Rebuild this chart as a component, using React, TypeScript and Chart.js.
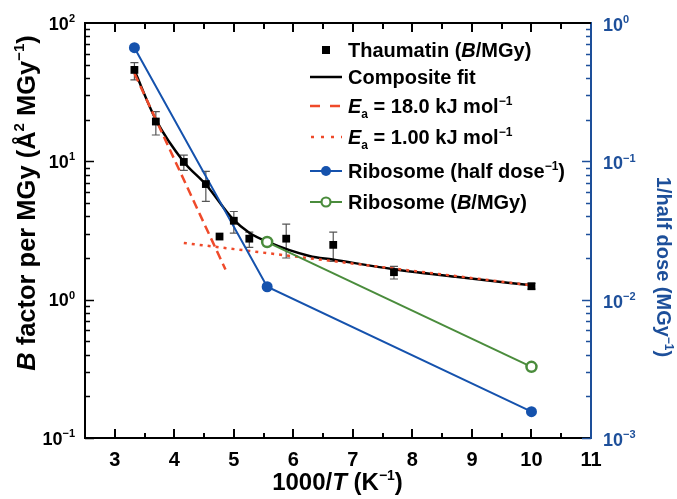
import React, { useEffect, useRef } from "react";
import { Chart, registerables } from "chart.js";

Chart.register(...registerables);

// ---------- data ----------
const thaumX = [3.33, 3.69, 4.16, 4.53, 4.76, 5.0, 5.26, 5.88, 6.67, 7.69, 10.0];
const thaumY = [45.8, 19.4, 9.9, 6.85, 2.86, 3.72, 2.76, 2.76, 2.49, 1.58, 1.25];
const thaumErrHi = [51.7, 22.9, 11.1, 8.45, null, 4.34, 3.08, 3.52, 3.08, 1.74, 1.31];
const thaumErrLo = [38.8, 15.5, 8.6, 5.13, null, 3.03, 2.39, 2.0, 1.89, 1.41, 1.19];

const fitX = [3.33, 3.69, 4.16, 4.53, 4.99, 5.26, 5.54, 6.27, 6.66, 7.69, 8.8, 10.0];
const fitY = [45.5, 20.0, 9.9, 6.8, 3.8, 3.05, 2.65, 2.07, 1.95, 1.66, 1.45, 1.27];

const ea18X = [3.33, 4.86];
const ea18Y = [43.3, 1.65];

const ea1X = [4.16, 10.0];
const ea1Y = [2.57, 1.27];

const riboDoseX = [3.33, 5.56, 10.0];
const riboDoseY = [0.663, 0.0124, 0.00155];

const riboBX = [5.56, 10.0];
const riboBY = [2.61, 0.327];

const xTicks = [3, 4, 5, 6, 7, 8, 9, 10, 11];
const xTickLabels = ["3", "4", "5", "6", "7", "8", "9", "10", "11"];
const yTicks = [0.1, 1, 10, 100];
const yTickExp = ["\u22121", "0", "1", "2"];
const y2Ticks = [0.001, 0.01, 0.1, 1];
const y2TickExp = ["\u22123", "\u22122", "\u22121", "0"];

// ---------- styles ----------
const FONT = '"Liberation Sans", Arial, Helvetica, sans-serif';
const RED = "#ef4a2a";
const BLUE = "#1552ad";
const AXIS_BLUE = "#1d4f9a";
const GREEN = "#4a8c3c";

type Run = { t: string; i?: boolean; sup?: boolean; sub?: boolean };

function runFont(r: Run, size: number) {
  const s = r.sup || r.sub ? Math.round(size * 0.6) : size;
  return `${r.i ? "italic " : ""}bold ${s}px ${FONT}`;
}

function measureRuns(ctx: CanvasRenderingContext2D, runs: Run[], size: number) {
  let w = 0;
  for (const r of runs) {
    ctx.font = runFont(r, size);
    w += ctx.measureText(r.t).width;
  }
  return w;
}

function drawRuns(ctx: CanvasRenderingContext2D, x: number, y: number, runs: Run[], size: number) {
  ctx.textBaseline = "alphabetic";
  ctx.textAlign = "left";
  let cx = x;
  for (const r of runs) {
    ctx.font = runFont(r, size);
    const dy = r.sup ? -size * 0.42 : r.sub ? size * 0.24 : 0;
    ctx.fillText(r.t, cx, y + dy);
    cx += ctx.measureText(r.t).width;
  }
  return cx;
}

const pts = (xs: number[], ys: number[]) => xs.map((x, i) => ({ x, y: ys[i] }));

const decorPlugin = {
  id: "decor",
  beforeDatasetsDraw(chart: any) {
    const ctx = chart.ctx as CanvasRenderingContext2D;
    const xs = chart.scales.x;
    const ys = chart.scales.y;
    ctx.save();
    ctx.strokeStyle = "#555";
    ctx.lineWidth = 1.2;
    thaumX.forEach((xv, i) => {
      const hi = thaumErrHi[i];
      const lo = thaumErrLo[i];
      if (hi == null || lo == null) return;
      const px = xs.getPixelForValue(xv);
      const ph = ys.getPixelForValue(hi);
      const pl = ys.getPixelForValue(lo);
      ctx.beginPath();
      ctx.moveTo(px, ph);
      ctx.lineTo(px, pl);
      ctx.moveTo(px - 4, ph);
      ctx.lineTo(px + 4, ph);
      ctx.moveTo(px - 4, pl);
      ctx.lineTo(px + 4, pl);
      ctx.stroke();
    });
    ctx.restore();
  },
  afterDraw(chart: any) {
    const ctx = chart.ctx as CanvasRenderingContext2D;
    const { left, right, top, bottom } = chart.chartArea;
    const xs = chart.scales.x;
    const ys = chart.scales.y;
    const y2s = chart.scales.y2;
    ctx.save();

    // top frame line
    ctx.strokeStyle = "#000";
    ctx.lineWidth = 2;
    ctx.beginPath();
    ctx.moveTo(left - 1, top);
    ctx.lineTo(right, top);
    ctx.stroke();

    // x ticks (inside), bottom and top
    ctx.lineWidth = 2;
    ctx.beginPath();
    for (let v = 3; v <= 10.51; v += 0.5) {
      const px = Math.round(xs.getPixelForValue(v));
      const major = Math.abs(v - Math.round(v)) < 1e-6;
      const lb = major ? 9 : 5;
      const lt = major ? 9 : 6;
      ctx.moveTo(px, bottom);
      ctx.lineTo(px, bottom - lb);
      ctx.moveTo(px, top);
      ctx.lineTo(px, top + lt);
    }
    ctx.stroke();

    // left y ticks (inside)
    ctx.lineWidth = 1.5;
    ctx.beginPath();
    for (let d = 0.1; d < 100; d *= 10) {
      for (let m = 1; m <= 9; m++) {
        const v = d * m;
        if (v > 100.001) continue;
        const py = Math.round(ys.getPixelForValue(v)) + 0.5;
        const len = m === 1 ? 9 : 5;
        ctx.moveTo(left, py);
        ctx.lineTo(left + len, py);
      }
    }
    ctx.stroke();

    // right y ticks (inside, blue)
    ctx.strokeStyle = AXIS_BLUE;
    ctx.beginPath();
    for (let d = 0.001; d < 1; d *= 10) {
      for (let m = 1; m <= 9; m++) {
        const v = d * m;
        const py = Math.round(y2s.getPixelForValue(v)) + 0.5;
        const len = m === 1 ? 9 : 5;
        ctx.moveTo(right, py);
        ctx.lineTo(right - len, py);
      }
    }
    ctx.stroke();

    // left tick labels
    const TS = 18;
    ctx.fillStyle = "#000";
    yTicks.forEach((v, i) => {
      const py = ys.getPixelForValue(v);
      const runs: Run[] = [{ t: "10" }, { t: yTickExp[i], sup: true }];
      const w = measureRuns(ctx, runs, TS);
      drawRuns(ctx, 75 - w, py + 6.5, runs, TS);
    });
    // right tick labels
    ctx.fillStyle = AXIS_BLUE;
    y2Ticks.forEach((v, i) => {
      const py = y2s.getPixelForValue(v);
      const runs: Run[] = [{ t: "10" }, { t: y2TickExp[i], sup: true }];
      drawRuns(ctx, 603, py + 8, runs, TS);
    });

    // bottom title
    ctx.fillStyle = "#000";
    const bt: Run[] = [{ t: "1000/" }, { t: "T", i: true }, { t: " (K" }, { t: "\u22121", sup: true }, { t: ")" }];
    const bw = measureRuns(ctx, bt, 24);
    drawRuns(ctx, 337.5 - bw / 2, 490, bt, 24);

    // left title
    const lt: Run[] = [
      { t: "B", i: true },
      { t: " factor per MGy (\u00c5" },
      { t: "2", sup: true },
      { t: " MGy" },
      { t: "\u22121", sup: true },
      { t: ")" },
    ];
    ctx.save();
    ctx.translate(35, 203);
    ctx.rotate(-Math.PI / 2);
    const lw = measureRuns(ctx, lt, 25.5);
    drawRuns(ctx, -lw / 2, 0, lt, 25.5);
    ctx.restore();

    // right title
    ctx.fillStyle = AXIS_BLUE;
    const rt: Run[] = [{ t: "1/half dose (MGy" }, { t: "\u22121", sup: true }, { t: ")" }];
    ctx.save();
    ctx.translate(657, 267);
    ctx.rotate(Math.PI / 2);
    const rw = measureRuns(ctx, rt, 20);
    drawRuns(ctx, -rw / 2, 0, rt, 20);
    ctx.restore();

    // legend
    const LS = 20;
    const rows = [50, 77, 106, 137, 171, 202];
    const x0 = 310, x1 = 342, xm = 326, tx = 348;
    ctx.lineCap = "butt";
    // 1 thaumatin
    ctx.fillStyle = "#000";
    ctx.fillRect(xm - 4, rows[0] - 4, 8, 8);
    // 2 composite
    ctx.strokeStyle = "#000";
    ctx.lineWidth = 2.5;
    ctx.setLineDash([]);
    ctx.beginPath(); ctx.moveTo(x0, rows[1]); ctx.lineTo(x1, rows[1]); ctx.stroke();
    // 3 dashed
    ctx.strokeStyle = RED;
    ctx.setLineDash([10, 10]);
    ctx.beginPath(); ctx.moveTo(x0, rows[2]); ctx.lineTo(x1, rows[2]); ctx.stroke();
    // 4 dotted
    ctx.setLineDash([3, 7]);
    ctx.beginPath(); ctx.moveTo(x0 + 1, rows[3]); ctx.lineTo(x1, rows[3]); ctx.stroke();
    ctx.setLineDash([]);
    // 5 blue
    ctx.strokeStyle = BLUE;
    ctx.lineWidth = 2;
    ctx.beginPath(); ctx.moveTo(x0, rows[4]); ctx.lineTo(x1, rows[4]); ctx.stroke();
    ctx.fillStyle = BLUE;
    ctx.beginPath(); ctx.arc(xm, rows[4], 5, 0, Math.PI * 2); ctx.fill();
    // 6 green
    ctx.strokeStyle = GREEN;
    ctx.beginPath(); ctx.moveTo(x0, rows[5]); ctx.lineTo(x1, rows[5]); ctx.stroke();
    ctx.fillStyle = "#fff";
    ctx.lineWidth = 2.2;
    ctx.beginPath(); ctx.arc(xm, rows[5], 4.5, 0, Math.PI * 2); ctx.fill(); ctx.stroke();

    ctx.fillStyle = "#000";
    const texts: Run[][] = [
      [{ t: "Thaumatin (" }, { t: "B", i: true }, { t: "/MGy)" }],
      [{ t: "Composite fit" }],
      [{ t: "E", i: true }, { t: "a", sub: true }, { t: " = 18.0 kJ mol" }, { t: "\u22121", sup: true }],
      [{ t: "E", i: true }, { t: "a", sub: true }, { t: " = 1.00 kJ mol" }, { t: "\u22121", sup: true }],
      [{ t: "Ribosome (half dose" }, { t: "\u22121", sup: true }, { t: ")" }],
      [{ t: "Ribosome (" }, { t: "B", i: true }, { t: "/MGy)" }],
    ];
    texts.forEach((runs, i) => drawRuns(ctx, tx, rows[i] + 7, runs, LS));

    ctx.restore();
  },
};

export default function App() {
  const ref = useRef<HTMLCanvasElement>(null);
  useEffect(() => {
    document.body.style.margin = "0";
    const canvas = ref.current!;
    const chart = new Chart(canvas, {
      type: "scatter",
      data: {
        datasets: [
          {
            label: "Thaumatin (B/MGy)",
            data: pts(thaumX, thaumY),
            showLine: false,
            pointStyle: "rect",
            pointRadius: 5.5,
            backgroundColor: "#000",
            borderColor: "#000",
            borderWidth: 0,
            yAxisID: "y",
            order: 0,
          },
          {
            label: "Ribosome (half dose-1)",
            data: pts(riboDoseX, riboDoseY),
            showLine: true,
            borderColor: BLUE,
            backgroundColor: BLUE,
            borderWidth: 2,
            pointRadius: 5.5,
            pointBorderWidth: 0,
            yAxisID: "y2",
            order: 1,
          },
          {
            label: "Ribosome (B/MGy)",
            data: pts(riboBX, riboBY),
            showLine: true,
            borderColor: GREEN,
            backgroundColor: "#fff",
            pointBackgroundColor: "#fff",
            pointBorderColor: GREEN,
            borderWidth: 2,
            pointBorderWidth: 2.5,
            pointRadius: 5,
            yAxisID: "y",
            order: 2,
          },
          {
            label: "Ea = 1.00",
            data: pts(ea1X, ea1Y),
            showLine: true,
            borderColor: RED,
            borderWidth: 2.5,
            borderDash: [3, 5],
            pointRadius: 0,
            yAxisID: "y",
            order: 3,
          },
          {
            label: "Ea = 18.0",
            data: pts(ea18X, ea18Y),
            showLine: true,
            borderColor: RED,
            borderWidth: 2.5,
            borderDash: [9, 5],
            pointRadius: 0,
            yAxisID: "y",
            order: 4,
          },
          {
            label: "Composite fit",
            data: pts(fitX, fitY),
            showLine: true,
            borderColor: "#000",
            borderWidth: 2.5,
            pointRadius: 0,
            cubicInterpolationMode: "monotone",
            yAxisID: "y",
            order: 5,
          },
        ] as any,
      },
      options: {
        responsive: false,
        devicePixelRatio: 1,
        animation: false,
        layout: { padding: { top: 23, left: 0, right: 0, bottom: 0 } },
        plugins: { legend: { display: false }, tooltip: { enabled: false } },
        scales: {
          x: {
            type: "linear",
            position: "bottom",
            min: 2.5,
            max: 11,
            afterBuildTicks: (s: any) => {
              s.ticks = xTicks.map((v) => ({ value: v }));
            },
            afterFit: (s: any) => {
              s.height = 61;
            },
            ticks: {
              autoSkip: false,
              maxRotation: 0,
              padding: 10,
              color: "#000",
              font: { family: FONT, size: 20, weight: "bold" },
              callback: (_v: any, i: number) => xTickLabels[i],
            },
            grid: { display: false, drawTicks: false },
            border: { display: true, color: "#000", width: 2 },
          },
          y: {
            type: "logarithmic",
            position: "left",
            min: 0.1,
            max: 100,
            afterBuildTicks: (s: any) => {
              s.ticks = yTicks.map((v) => ({ value: v }));
            },
            afterFit: (s: any) => {
              s.width = 85;
            },
            ticks: { display: false },
            grid: { display: false, drawTicks: false },
            border: { display: true, color: "#000", width: 2 },
          },
          y2: {
            type: "logarithmic",
            position: "right",
            min: 0.001,
            max: 1,
            afterBuildTicks: (s: any) => {
              s.ticks = y2Ticks.map((v) => ({ value: v }));
            },
            afterFit: (s: any) => {
              s.width = 86;
            },
            ticks: { display: false },
            grid: { display: false, drawTicks: false },
            border: { display: true, color: AXIS_BLUE, width: 2 },
          },
        } as any,
      },
      plugins: [decorPlugin],
    });
    return () => chart.destroy();
  }, []);
  return (
    <div style={{ position: "absolute", left: 0, top: 0, width: 677, height: 499, background: "#fff" }}>
      <canvas ref={ref} width={677} height={499} style={{ display: "block", width: 677, height: 499 }} />
    </div>
  );
}
